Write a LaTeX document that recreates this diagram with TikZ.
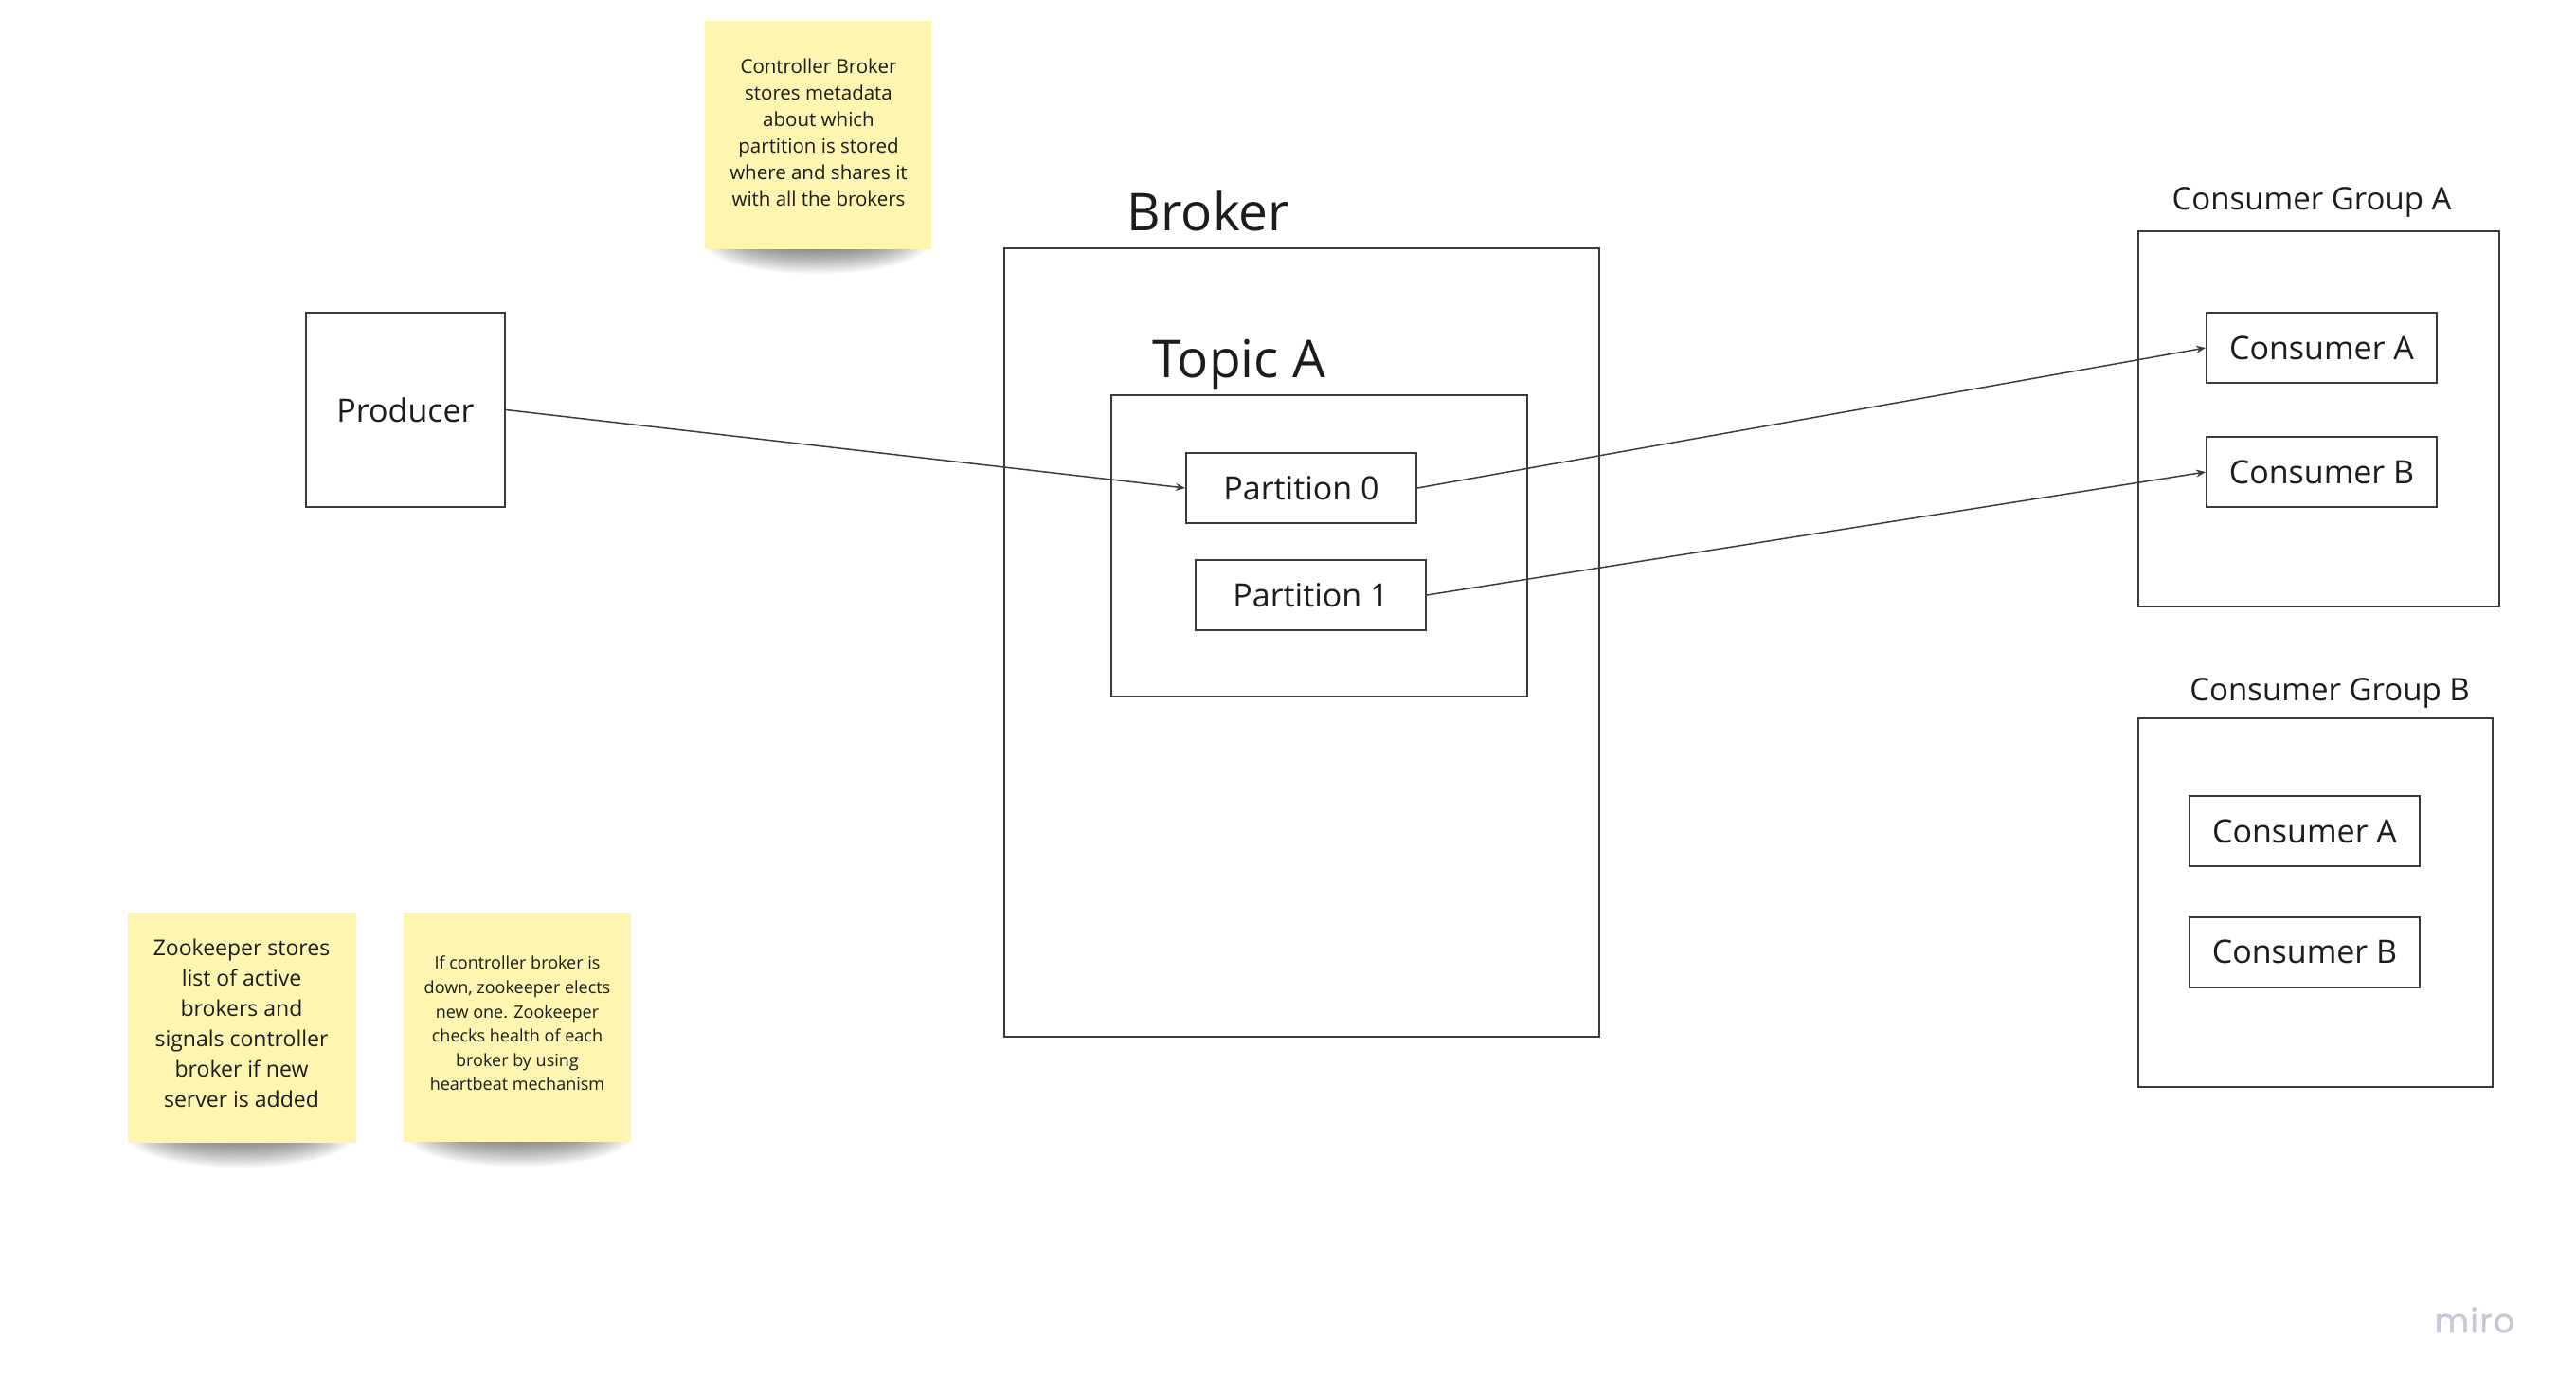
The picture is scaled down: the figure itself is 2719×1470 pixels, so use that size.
\documentclass[tikz,border=0pt]{standalone}
\usepackage{fontspec}
\setmainfont{Open Sans}
\newfontfamily\mirofont{Poppins}[FakeBold=1.2, LetterSpace=4]
\usetikzlibrary{arrows.meta}
\definecolor{textc}{HTML}{1C1C1C}
\definecolor{linec}{HTML}{3A3A3A}
\definecolor{arrowc}{HTML}{3C3C3C}
\definecolor{sticky}{HTML}{FEF5B0}
\definecolor{miroc}{HTML}{C8C8D5}
\tikzset{
  box/.style={draw=linec, line width=2pt, inner sep=0pt, text=textc, font=\fontsize{34}{46}\selectfont},
  lbl/.style={anchor=base, inner sep=0pt, text=textc},
  note/.style={fill=sticky, inner sep=0pt},
  notetext/.style={align=center, anchor=north, inner sep=0pt, text=textc},
  conn/.style={draw=arrowc, line width=1.5pt, -{Stealth[length=10pt,width=8pt]}},
  shadowlayer/.style={fill=black, opacity=0.035},
}
\begin{document}
\begin{tikzpicture}[x=1pt,y=-1pt]
\fill[white] (0,0) rectangle (2719,1470);
\useasboundingbox (0,0) rectangle (2719,1470);

% sticky note shadows
\foreach \k in {0,...,15} {
  \fill[shadowlayer] (862,257) ellipse ({118-4*\k} and {32-1.8*\k});
  \fill[shadowlayer] (254,1200) ellipse ({118-4*\k} and {32-1.8*\k});
  \fill[shadowlayer] (548,1199) ellipse ({118-4*\k} and {32-1.8*\k});
}

% sticky notes
\node[note, minimum width=239pt, minimum height=241pt] (ctrlnote) at (863.5,142.5) {};
\node[notetext, font=\fontsize{20.5}{28}\selectfont] (ctrltext) at (864,62)
  {Controller Broker\\stores metadata\\about which\\partition is stored\\where and shares it\\with all the brokers};

\node[note, minimum width=241pt, minimum height=243pt] (zoonote) at (255.5,1084.5) {};
\node[notetext, font=\fontsize{23}{32}\selectfont] (zootext) at (255,990.5)
  {Zookeeper stores\\list of active\\brokers and\\signals controller\\broker if new\\server is added};

\node[note, minimum width=240pt, minimum height=242pt] (hbnote) at (546,1084) {};
\node[notetext, font=\fontsize{18}{25.6}\selectfont] (hbtext) at (546,1009)
  {If controller broker is\\down, zookeeper elects\\new one. Zookeeper\\checks health of each\\broker by using\\heartbeat mechanism};

% producer
\node[box, minimum width=210pt, minimum height=205pt] (producer) at (428,432.5) {Producer};

% broker
\node[box, minimum width=628pt, minimum height=832pt] (broker) at (1374,678) {};
\node[lbl, font=\fontsize{55}{66}\selectfont] (brokerlbl) at (1275.5,243) {Broker};
\node[box, minimum width=439pt, minimum height=318pt] (topic) at (1392.5,576) {};
\node[lbl, font=\fontsize{55}{66}\selectfont] (topiclbl) at (1307.5,398.5) {Topic A};
\node[box, minimum width=243pt, minimum height=74pt] (p0) at (1373.5,515) {Partition 0};
\node[box, minimum width=243pt, minimum height=74pt] (p1) at (1383.5,628) {Partition 1};

% consumer group A
\node[box, minimum width=381pt, minimum height=396pt] (cgA) at (2447.5,442) {};
\node[lbl, font=\fontsize{33}{44}\selectfont] (cgAlbl) at (2440,221) {Consumer Group A};
\node[box, minimum width=243pt, minimum height=74pt] (caA) at (2450.5,367) {Consumer A};
\node[box, minimum width=243pt, minimum height=74pt] (cbA) at (2450.5,498) {Consumer B};

% consumer group B
\node[box, minimum width=374pt, minimum height=389pt] (cgB) at (2444,952.5) {};
\node[lbl, font=\fontsize{33}{44}\selectfont] (cgBlbl) at (2459,739) {Consumer Group B};
\node[box, minimum width=243pt, minimum height=74pt] (caB) at (2432.5,877) {Consumer A};
\node[box, minimum width=243pt, minimum height=74pt] (cbB) at (2432.5,1004.5) {Consumer B};

% connectors
\draw[conn] (producer.east) -- (p0.west);
\draw[conn] (p0.east) -- (caA.west);
\draw[conn] (p1.east) -- (cbA.west);

% logo
\node[lbl, text=miroc, font=\mirofont\fontsize{35}{40}\selectfont] (miro) at (2612,1406) {miro};
\end{tikzpicture}
\end{document}
